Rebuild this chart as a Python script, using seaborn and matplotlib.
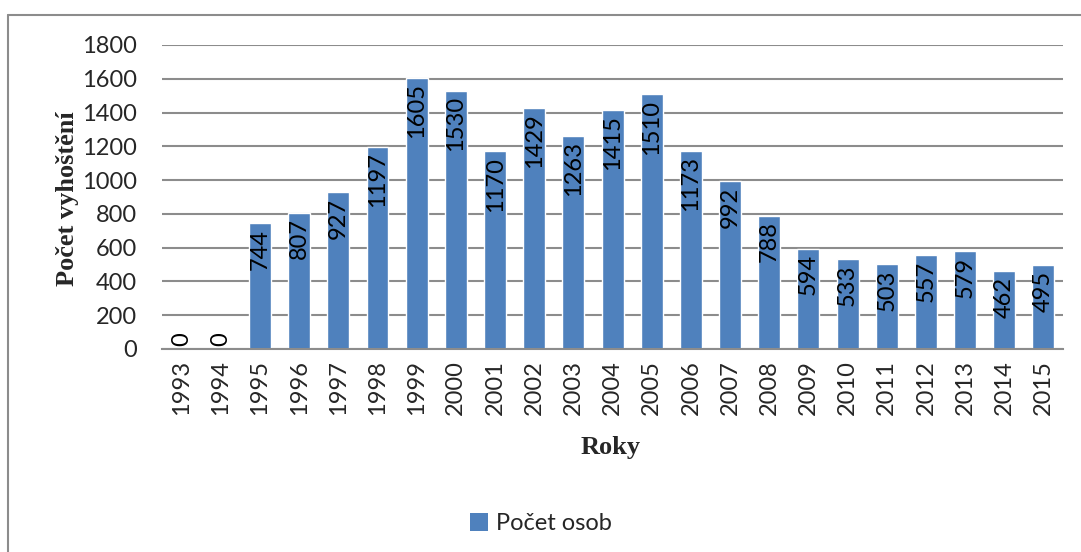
import matplotlib
matplotlib.use("Agg")
import matplotlib.pyplot as plt
import seaborn as sns
import pandas as pd
from matplotlib.lines import Line2D
from matplotlib.patches import Patch

years = [str(y) for y in range(1993, 2016)]
values = [0, 0, 744, 807, 927, 1197, 1605, 1530, 1170, 1429, 1263, 1415, 1510,
          1173, 992, 788, 594, 533, 503, 557, 579, 462, 495]
series_name = "Počet osob"
y_label = "Počet vyhoštění"
x_label = "Roky"
y_ticks = [0, 200, 400, 600, 800, 1000, 1200, 1400, 1600, 1800]

df = pd.DataFrame({"Rok": years, "Počet": values})

sns.set_style("white")
plt.rcParams['font.family'] = ['Lato', 'DejaVu Sans']

BLUE = "#4F81BD"
GRID = "#8C8C8C"
FS = 17

fig = plt.figure(figsize=(10.81, 5.52), dpi=100)
ax = fig.add_axes([0.1499, 0.3678, 0.8335, 0.5507])

sns.barplot(data=df, x="Rok", y="Počet", color=BLUE, width=0.56,
            saturation=1, ax=ax, zorder=3)

ax.set_ylim(0, 1800)
ax.set_xlim(-0.5, len(years) - 0.5)
ax.set_yticks(y_ticks)
ax.set_yticklabels([str(t) for t in y_ticks], fontsize=FS)
ax.tick_params(axis='y', length=0, pad=18)
ax.tick_params(axis='x', length=0, pad=8, labelrotation=90, labelsize=FS)
for t in ax.get_xticklabels():
    t.set_verticalalignment('top')

ax.grid(axis='y', color=GRID, linewidth=1.5, zorder=0)
ax.set_axisbelow(True)
for s in ["left", "right", "top"]:
    ax.spines[s].set_visible(False)
ax.spines["bottom"].set_color(GRID)
ax.spines["bottom"].set_linewidth(1.5)
ax.spines["bottom"].set_zorder(4)

# data labels, inside end, rotated
for i, v in enumerate(values):
    if v == 0:
        ax.text(i, 20, "0", rotation=90, ha='center', va='bottom',
                fontsize=FS, color='black', zorder=5)
    else:
        ax.annotate(str(v), xy=(i, v), xytext=(0, -4), textcoords='offset points',
                    rotation=90, ha='center', va='top', fontsize=FS,
                    color='black', zorder=5)

ax.set_xlabel("")
ax.set_ylabel("")
fig.text(0.062, 0.64, y_label, rotation=90, ha='center', va='center',
         fontsize=19, fontweight='bold', family=['Liberation Serif', 'DejaVu Serif'])
fig.text(0.565, 0.19, x_label, ha='center', va='center',
         fontsize=19, fontweight='bold', family=['Liberation Serif', 'DejaVu Serif'])

handles = [Patch(facecolor=BLUE, edgecolor='none', label=series_name)]
fig.legend(handles=handles, loc='center', bbox_to_anchor=(0.50, 0.052),
           frameon=False, fontsize=FS, handlelength=0.8, handleheight=0.8,
           handletextpad=0.3)

# chart border
fig.add_artist(Line2D([8/1081, 8/1081], [0, 1 - 15/552], transform=fig.transFigure,
                      color="#8C8C8C", linewidth=1.5))
fig.add_artist(Line2D([8/1081, 1.0], [1 - 15/552, 1 - 15/552], transform=fig.transFigure,
                      color="#8C8C8C", linewidth=1.5))

fig.savefig("out.png", dpi=100)
